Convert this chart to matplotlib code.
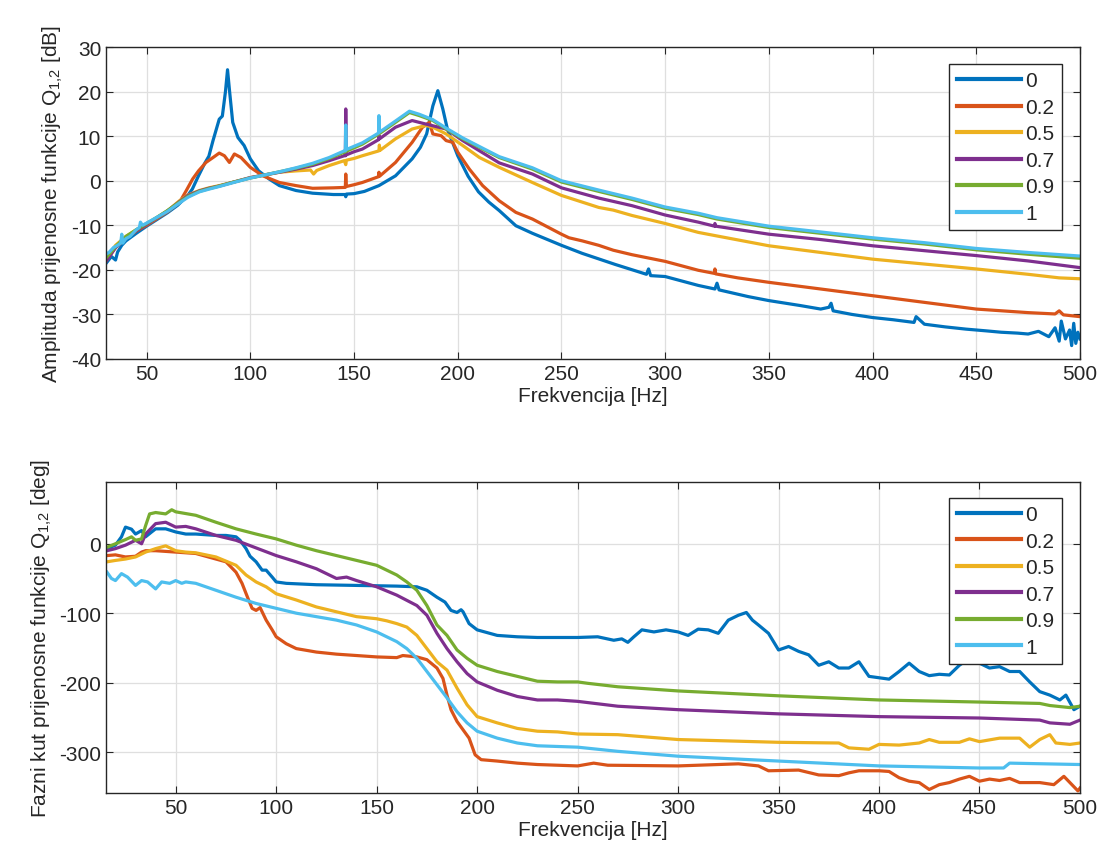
import matplotlib
matplotlib.use("Agg")
import matplotlib.pyplot as plt

plt.rcParams["font.family"] = ["Liberation Sans", "DejaVu Sans"]
plt.rcParams["mathtext.fontset"] = "custom"
plt.rcParams["mathtext.rm"] = "Liberation Sans"
plt.rcParams["mathtext.default"] = "regular"
plt.rcParams["axes.unicode_minus"] = False

labels = ["0", "0.2", "0.5", "0.7", "0.9", "1"]
colors = ["#0072BD", "#D95319", "#EDB120", "#7E2F8E", "#77AC30", "#4DBEEE"]

# ---- amplitude [dB] ----
amp_f0 = [30.5, 33, 35, 36, 38, 40, 45, 50, 55, 60, 65, 70, 72, 75, 78, 80, 82, 85, 86.5, 88, 89, 90, 91.5,
          94, 97, 100, 104, 109, 114, 122, 130, 140, 145.8, 146, 146.3, 150, 155, 162, 170, 178, 182, 185, 188,
          190.4, 192.8, 195, 200, 205, 210, 215, 220, 228, 236, 250, 260, 276, 291, 292, 293, 300, 316, 324,
          325, 326, 340, 350, 365, 375, 379, 380, 381, 390, 400, 410, 420, 421, 425, 435, 445, 455, 462, 470,
          475, 480, 485, 488, 490, 491, 493, 495, 496, 497, 498, 499, 500]
amp_y0 = [-18.5, -17, -17.8, -16, -14.5, -13.5, -11.8, -10.2, -8.7, -7.2, -5.5, -3.2, -1.9, 1.1, 3.9, 5.5, 9.0,
          13.8, 14.5, 20, 24.9, 20, 13.1, 9.7, 7.9, 4.9, 2.2, 0.4, -1.1, -2.2, -2.8, -3.1, -3.1, -3.6, -3.0,
          -2.9, -2.4, -1.1, 1.1, 4.9, 7.5, 10.5, 16.8, 20.2, 16.1, 11.6, 5.6, 1.0, -2.5, -4.8, -6.7, -10.1,
          -11.8, -14.5, -16.3, -18.8, -21, -19.8, -21.3, -21.5, -23.5, -24.3, -23.0, -24.5, -26, -26.9, -28,
          -28.8, -28.4, -27.5, -29.2, -30, -30.7, -31.2, -31.8, -30.5, -32.2, -32.8, -33.3, -33.7, -34, -34.2,
          -34.4, -33.8, -35, -33, -36, -31.5, -35.5, -33.5, -37, -32, -36.5, -34, -35.5]

amp_f1 = [30.5, 35, 40, 45, 50, 55, 60, 65.8, 69, 72.2, 75, 78.6, 82, 85, 87.5, 89.9, 92.3, 95.5, 100, 106, 114,
          122, 130, 140, 145.8, 146, 146.3, 150, 154, 161.8, 162, 162.3, 170, 178, 183, 186.3, 188, 192, 194.4,
          197.6, 200, 205.6, 212, 220, 228, 236, 250, 253.6, 260, 268, 275, 284, 300, 316, 323.8, 324, 324.3,
          335, 350, 375, 400, 425, 450, 475, 488, 490, 492, 500]
amp_y1 = [-18, -15, -13, -11.3, -10, -8.5, -7, -4.9, -2.3, 0.4, 2.2, 4.1, 5.2, 6.2, 5.6, 4.1, 6.0, 5.2, 3.0, 1.1,
          -0.4, -1.1, -1.7, -1.6, -1.5, 1.5, -1.3, -0.9, -0.4, 0.9, 1.9, 1.0, 4.1, 8.6, 12, 13.1, 10.5, 10.1,
          9.0, 8.6, 6.4, 2.6, -1.1, -4.5, -7.1, -8.6, -12.0, -12.8, -13.5, -14.5, -15.6, -16.6, -18.1, -20.1,
          -20.8, -19.8, -20.9, -21.8, -22.8, -24.3, -25.8, -27.3, -28.8, -29.6, -29.9, -29.2, -30.1, -30.5]

amp_f2 = [30.5, 35, 40, 45, 50, 55, 60, 65.8, 70, 75.4, 80, 85, 92, 100, 107, 114, 122, 129, 130.5, 132, 138,
          145.3, 146, 146.3, 150, 154, 162, 162.2, 162.5, 170, 178, 184.7, 188, 194.4, 202.4, 210.5, 220, 236,
          250, 268, 275, 284, 300, 316, 325, 350, 375, 400, 425, 450, 475, 490, 500]
amp_y2 = [-17.5, -14.5, -12.5, -11, -9.8, -8.3, -6.8, -4.5, -3.2, -2.2, -1.6, -1.1, -0.3, 0.7, 1.3, 1.9, 2.2,
          2.4, 1.5, 2.3, 3.4, 4.5, 3.6, 4.6, 5.0, 5.6, 6.7, 8.0, 6.8, 9.4, 11.6, 12.4, 12.0, 10.5, 7.9, 5.2,
          3.0, -0.4, -3.3, -6.0, -6.6, -7.8, -9.6, -11.6, -12.4, -14.6, -16.1, -17.6, -18.7, -19.8, -21,
          -21.8, -22]

amp_f3 = [30.5, 35, 40, 45, 50, 55, 60, 65.8, 70, 75.4, 80, 85, 92, 100, 107, 114, 122, 130, 138, 145.3, 145.8,
          146, 146.3, 150, 154, 161.8, 162, 162.3, 170, 178, 184.7, 194.4, 202.4, 210.5, 220, 236, 250, 268,
          284, 300, 316, 323.8, 324, 324.3, 350, 375, 400, 425, 450, 475, 500]
amp_y3 = [-18, -15, -12.8, -11.2, -9.8, -8.3, -6.8, -4.7, -3.3, -2.3, -1.7, -1.2, -0.3, 0.7, 1.3, 1.9, 2.6, 3.4,
          4.5, 5.6, 5.6, 16.1, 5.8, 6.5, 7.1, 9.2, 10.2, 9.4, 12, 13.5, 12.7, 11.6, 9.0, 6.7, 4.0, 1.5, -1.6,
          -3.9, -5.6, -7.7, -9.3, -10.2, -9.6, -10.2, -12, -13.2, -14.6, -15.7, -16.8, -18, -19.5]

amp_f4 = [30.5, 35, 40, 45, 50, 55, 60, 65.8, 70, 75.4, 80, 85, 92, 100, 107, 114, 122, 130, 138, 145.3, 154,
          162, 170, 176.7, 181.5, 188, 194.4, 202.4, 212, 220, 236, 250, 268, 284, 300, 316, 325, 350, 375,
          400, 425, 450, 475, 500]
amp_y4 = [-17.3, -14.8, -12.5, -11, -9.6, -8.2, -6.7, -4.8, -3.5, -2.4, -1.8, -1.2, -0.3, 0.6, 1.3, 2.0, 2.8,
          3.7, 5.0, 6.4, 8.2, 10.5, 13.1, 15.3, 14.6, 13.5, 11.6, 9.4, 7.1, 5.2, 2.6, -0.3, -2.4, -4.2, -6.2,
          -7.6, -8.6, -10.5, -11.8, -13.1, -14.2, -15.5, -16.5, -17.4]

amp_f5 = [30.5, 32, 34, 36, 37.5, 38, 38.5, 40, 42, 45, 46.5, 47, 48, 50, 55, 60, 65.8, 70, 75.4, 80, 85, 92,
          100, 107, 114, 122, 130, 138, 145.3, 145.8, 146, 146.3, 154, 161.8, 162, 162.3, 170, 176.7, 181.5,
          188, 194.4, 202.4, 212, 220, 236, 250, 268, 284, 300, 316, 325, 350, 375, 400, 425, 450, 475, 500]
amp_y5 = [-16.5, -16, -15, -14.5, -14, -12, -14, -13, -12.5, -11, -10.5, -9.3, -10, -9.5, -8.2, -6.9, -5.0,
          -3.7, -2.5, -1.9, -1.3, -0.4, 0.6, 1.3, 2.0, 2.9, 3.9, 5.2, 6.7, 6.7, 12.5, 7.0, 8.5, 10.7, 14.6,
          10.9, 13.4, 15.6, 14.9, 13.7, 11.8, 9.6, 7.3, 5.4, 2.9, 0.0, -2.1, -3.9, -5.9, -7.3, -8.3, -10.2,
          -11.5, -12.8, -13.9, -15.2, -16.1, -16.9]

# ---- phase [deg] ----
ph_f0 = [15.8, 20, 23, 25, 28, 30, 33, 35, 38, 40, 45, 50, 55, 60, 70, 75, 80, 82, 85, 87, 90, 93, 95, 98, 100,
         105, 120, 140, 160, 170, 175, 180, 184, 187, 190, 192, 193, 196, 200, 210, 220, 230, 250, 260, 268,
         272, 275, 278, 282, 288, 294, 300, 305, 310, 315, 320, 325, 330, 334, 337, 340, 345, 350, 355, 360,
         365, 370, 375, 380, 385, 390, 395, 400, 405, 410, 415, 420, 425, 430, 435, 440, 445, 450, 455, 460,
         465, 470, 475, 480, 485, 490, 493, 497, 500]
ph_y0 = [-7, -2, 10, 24, 21, 14, 19, 10, 17, 21.5, 21.5, 17, 14, 14, 12, 12, 10, 5, -7, -18, -26, -38, -38, -48,
         -55, -57, -59, -60, -61, -62, -67, -77, -84, -96, -99, -95, -98, -115, -124, -132, -134, -135, -135,
         -134, -139, -137, -142, -134, -124, -127, -124, -127, -132, -123, -124, -129, -110, -103, -99, -110,
         -117, -129, -153, -148, -155, -160, -175, -170, -179, -179, -170, -191, -193, -195, -184, -172, -184,
         -190, -188, -189, -175, -165, -172, -179, -177, -184, -184, -199, -213, -218, -225, -218, -239, -234]

ph_f1 = [15.8, 20, 25, 30, 33, 35, 40, 45, 50, 60, 70, 75, 80, 83, 86, 88, 90, 92, 95, 98, 100, 105, 110, 120,
         130, 140, 150, 160, 163, 170, 175, 180, 183, 185, 187, 190, 193, 196, 199, 202, 210, 220, 230, 240,
         250, 258, 265, 300, 330, 340, 345, 360, 370, 380, 385, 390, 400, 405, 410, 415, 420, 425, 430, 435,
         440, 445, 450, 455, 460, 465, 470, 480, 487, 492, 496, 499, 500]
ph_y1 = [-17, -16, -19, -18, -12, -10, -10, -11, -12, -14, -22, -26, -41, -57, -79, -93, -96, -92, -110, -124,
         -134, -144, -151, -156, -159, -161, -163, -164, -161, -163, -167, -179, -194, -218, -239, -256, -268,
         -280, -304, -311, -313, -316, -318, -319, -320, -316, -319, -320, -317, -320, -327, -326, -333, -334,
         -330, -327, -327, -328, -337, -342, -344, -354, -347, -344, -339, -335, -342, -339, -341, -338, -344,
         -344, -347, -335, -347, -356, -352]

ph_f2 = [15.8, 20, 25, 30, 35, 40, 45, 50, 55, 60, 70, 80, 85, 90, 95, 100, 110, 120, 130, 140, 150, 155, 160,
         165, 170, 175, 180, 185, 190, 195, 200, 210, 220, 230, 240, 250, 270, 300, 350, 380, 385, 395, 400,
         410, 420, 425, 430, 440, 445, 450, 460, 470, 475, 480, 485, 488, 495, 500]
ph_y2 = [-26, -24, -22, -19, -12, -7, -3, -10, -12, -13, -19, -31, -45, -55, -62, -72, -81, -91, -98, -105,
         -108, -111, -115, -120, -132, -151, -170, -182, -208, -232, -249, -258, -266, -270, -271, -274, -275,
         -282, -286, -287, -294, -296, -289, -290, -287, -282, -286, -286, -281, -285, -280, -280, -293, -282,
         -275, -287, -289, -287]

ph_f3 = [15.8, 20, 25, 30, 33, 35, 40, 45, 50, 55, 60, 70, 80, 90, 100, 110, 120, 130, 135, 140, 150, 160, 170,
         175, 180, 185, 190, 195, 200, 210, 220, 230, 240, 250, 270, 300, 350, 400, 450, 480, 485, 495, 500]
ph_y3 = [-10, -7, -2, 5, 0, 14, 29, 31, 24, 25, 21.5, 12, 5, -6, -17, -26, -36, -50, -48, -53, -62, -74, -89,
         -103, -129, -151, -170, -187, -199, -211, -220, -225, -225, -227, -234, -239, -245, -249, -251, -254,
         -258, -260, -254]

ph_f4 = [15.8, 20, 25, 28, 30, 33, 35, 37, 40, 45, 48, 50, 60, 70, 80, 90, 100, 110, 120, 130, 140, 150, 160,
         165, 170, 175, 180, 185, 190, 195, 200, 210, 220, 230, 240, 250, 255, 270, 300, 350, 400, 450, 480,
         485, 495, 500]
ph_y4 = [-5, 0, 6, 10, 5, 7, 26, 43, 45, 43, 49, 46, 41, 31, 21.5, 14, 7, -2, -10, -17, -24, -31, -45, -55, -67,
         -89, -117, -132, -153, -165, -175, -184, -191, -198, -199, -199, -201, -206, -212, -219, -225, -228,
         -230, -233, -236, -234]

ph_f5 = [15.8, 18, 20, 23, 26, 30, 33, 36, 40, 43, 47, 50, 53, 55, 60, 70, 80, 90, 100, 110, 120, 130, 140, 150,
         160, 165, 170, 175, 180, 185, 190, 195, 200, 210, 220, 230, 250, 270, 300, 350, 400, 450, 462, 465, 500]
ph_y5 = [-41, -50, -53, -43, -48, -60, -53, -55, -65, -55, -57, -53, -57, -55, -57, -67, -77, -86, -93, -100,
         -105, -110, -117, -127, -141, -151, -165, -184, -203, -222, -242, -258, -270, -280, -287, -291, -293,
         -299, -306, -313, -320, -323, -323, -316, -318]

amp_f = [amp_f0, amp_f1, amp_f2, amp_f3, amp_f4, amp_f5]
amp_y = [amp_y0, amp_y1, amp_y2, amp_y3, amp_y4, amp_y5]
ph_f = [ph_f0, ph_f1, ph_f2, ph_f3, ph_f4, ph_f5]
ph_y = [ph_y0, ph_y1, ph_y2, ph_y3, ph_y4, ph_y5]

txt = "#262626"
fig = plt.figure(figsize=(11.03, 8.62), dpi=100)
ax1 = fig.add_axes([0.0961, 0.5824, 0.8830, 0.3619])
ax2 = fig.add_axes([0.0961, 0.0789, 0.8830, 0.3608])


def style(ax):
    ax.grid(True, color="#dfdfdf", linewidth=0.9)
    ax.set_axisbelow(True)
    ax.tick_params(direction="in", top=True, right=True, length=5, colors=txt, labelsize=15)
    for s in ax.spines.values():
        s.set_color(txt)
        s.set_linewidth(1.0)
    ax.set_xticks(range(50, 501, 50))
    ax.set_xlabel("Frekvencija [Hz]", fontsize=15, color=txt, labelpad=2)


for f, y, c, lab in zip(amp_f, amp_y, colors, labels):
    ax1.plot(f, y, color=c, lw=2.3, label=lab)
ax1.set_xlim(30.4, 500)
ax1.set_ylim(-40, 30)
ax1.set_yticks(range(-40, 31, 10))
ax1.set_ylabel("Amplituda prijenosne funkcije Q$_{1{,}2}$ [dB]", fontsize=15, color=txt)
style(ax1)

for f, y, c, lab in zip(ph_f, ph_y, colors, labels):
    ax2.plot(f, y, color=c, lw=2.3, label=lab)
ax2.set_xlim(15.3, 500)
ax2.set_ylim(-359, 89)
ax2.set_yticks([-300, -200, -100, 0])
ax2.set_ylabel("Fazni kut prijenosne funkcije Q$_{1{,}2}$ [deg]", fontsize=15, color=txt)
style(ax2)

for ax, top in ((ax1, 0.9455), (ax2, 0.9486)):
    leg = ax.legend(loc="upper right", bbox_to_anchor=(0.9815, top), fontsize=15, fancybox=False,
                    edgecolor=txt, framealpha=1, handlelength=3.1, handletextpad=0.2,
                    labelspacing=0.36, borderpad=0.35, borderaxespad=0)
    leg.get_frame().set_linewidth(1.0)
    for line in leg.get_lines():
        line.set_linewidth(3)
    for t in leg.get_texts():
        t.set_color(txt)

fig.savefig("out.png", dpi=100)
